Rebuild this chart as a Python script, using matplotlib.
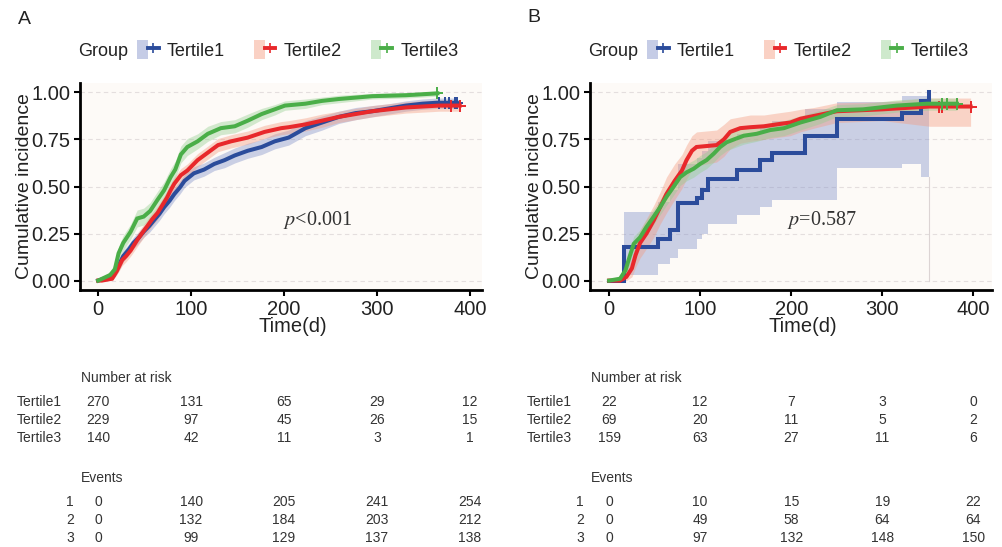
import matplotlib
matplotlib.use("Agg")
import matplotlib.pyplot as plt
import matplotlib.transforms as mtransforms
from matplotlib.lines import Line2D
from matplotlib.patches import Patch
from matplotlib.legend_handler import HandlerTuple
import numpy as np

plt.rcParams['font.family'] = ['Liberation Sans', 'DejaVu Sans']
plt.rcParams['mathtext.fontset'] = 'stix'

groups = ["Tertile1", "Tertile2", "Tertile3"]
line_colors = ["#2B4C9B", "#E8282B", "#4AAE48"]
band_colors = ["#7F8FC8", "#F49A7E", "#93CF8E"]
risk_times = [0, 100, 200, 300, 400]

# ---- Panel A curves (time, estimate, lower CI, upper CI) ----
a1_time = [0, 3, 17, 22, 27, 33, 38, 44, 49, 55, 60, 66, 71, 77, 82, 88, 93, 103, 114, 125,
           136, 147, 161, 176, 190, 205, 223, 241, 259, 277, 295, 313, 331, 349, 364, 386]
a1_est = [0, 0.005, 0.03, 0.08, 0.13, 0.165, 0.20, 0.23, 0.26, 0.29, 0.32, 0.355, 0.39, 0.425, 0.46,
          0.495, 0.53, 0.57, 0.59, 0.62, 0.64, 0.665, 0.69, 0.71, 0.74, 0.76, 0.81, 0.84, 0.87, 0.89,
          0.90, 0.915, 0.93, 0.94, 0.945, 0.945]
a1_lo = [0, 0, 0.01, 0.05, 0.10, 0.135, 0.17, 0.20, 0.23, 0.255, 0.285, 0.32, 0.355, 0.39, 0.425,
         0.46, 0.495, 0.535, 0.555, 0.585, 0.60, 0.625, 0.65, 0.67, 0.70, 0.72, 0.77, 0.80, 0.835, 0.855,
         0.87, 0.885, 0.90, 0.91, 0.915, 0.915]
a1_hi = [0, 0.015, 0.05, 0.11, 0.16, 0.195, 0.23, 0.26, 0.29, 0.325, 0.355, 0.39, 0.425, 0.46, 0.495,
         0.53, 0.565, 0.605, 0.625, 0.655, 0.68, 0.705, 0.73, 0.75, 0.78, 0.80, 0.85, 0.875, 0.9, 0.92,
         0.93, 0.94, 0.955, 0.965, 0.97, 0.97]

a2_time = [0, 4, 15, 20, 26, 30, 35, 42, 47, 53, 58, 64, 69, 74, 78, 82, 89, 96, 107, 118,
           129, 143, 161, 179, 197, 205, 223, 241, 259, 277, 295, 313, 331, 349, 367, 389]
a2_est = [0, 0, 0.01, 0.05, 0.11, 0.13, 0.16, 0.215, 0.25, 0.29, 0.325, 0.36, 0.40, 0.44, 0.48,
          0.515, 0.56, 0.585, 0.64, 0.68, 0.72, 0.74, 0.76, 0.79, 0.81, 0.815, 0.83, 0.85, 0.87, 0.885,
          0.90, 0.91, 0.92, 0.925, 0.93, 0.93]
a2_lo = [0, 0, 0, 0.03, 0.08, 0.10, 0.13, 0.18, 0.215, 0.255, 0.29, 0.325, 0.365, 0.405, 0.445,
         0.48, 0.525, 0.55, 0.605, 0.645, 0.685, 0.705, 0.725, 0.755, 0.775, 0.78, 0.795, 0.815, 0.84, 0.855,
         0.87, 0.88, 0.89, 0.895, 0.90, 0.90]
a2_hi = [0, 0.01, 0.02, 0.07, 0.14, 0.16, 0.19, 0.25, 0.285, 0.325, 0.36, 0.395, 0.435, 0.475, 0.515,
         0.55, 0.595, 0.62, 0.675, 0.715, 0.755, 0.775, 0.795, 0.825, 0.845, 0.85, 0.865, 0.885, 0.9, 0.915,
         0.93, 0.94, 0.95, 0.955, 0.96, 0.96]

a3_time = [0, 13, 18, 22, 27, 31, 35, 42, 49, 56, 64, 71, 78, 83, 89, 96, 107, 118, 132, 147,
           161, 176, 190, 201, 223, 241, 259, 295, 331, 365]
a3_est = [0, 0.03, 0.06, 0.145, 0.2, 0.23, 0.26, 0.33, 0.34, 0.37, 0.43, 0.48, 0.55, 0.59, 0.67,
          0.71, 0.74, 0.78, 0.81, 0.82, 0.85, 0.885, 0.91, 0.93, 0.94, 0.955, 0.965, 0.98, 0.985, 0.995]
a3_lo = [0, 0.01, 0.03, 0.11, 0.16, 0.19, 0.22, 0.285, 0.295, 0.325, 0.385, 0.435, 0.505, 0.545, 0.625,
         0.665, 0.70, 0.74, 0.775, 0.785, 0.815, 0.855, 0.88, 0.905, 0.915, 0.935, 0.945, 0.965, 0.97, 0.98]
a3_hi = [0, 0.05, 0.09, 0.18, 0.24, 0.27, 0.30, 0.375, 0.385, 0.415, 0.475, 0.525, 0.595, 0.635, 0.715,
         0.755, 0.78, 0.82, 0.845, 0.855, 0.885, 0.915, 0.935, 0.955, 0.965, 0.975, 0.985, 0.995, 1.0, 1.0]

a_censor = [[367, 373, 378, 384, 386], [380, 389], [365]]

# ---- Panel B curves ----
b1_time = [0, 16, 54, 67, 76, 96, 102, 109, 140, 166, 179, 215, 250, 322, 343, 351]
b1_est = [0, 0.18, 0.22, 0.27, 0.41, 0.44, 0.48, 0.54, 0.59, 0.64, 0.68, 0.77, 0.86, 0.89, 0.955, 1.0]
b1_lo = [0, 0.03, 0.09, 0.12, 0.17, 0.22, 0.25, 0.30, 0.35, 0.39, 0.43, 0.43, 0.60, 0.62, 0.55, 0.55]
b1_hi = [0, 0.365, 0.42, 0.48, 0.62, 0.65, 0.69, 0.74, 0.78, 0.82, 0.85, 0.91, 0.95, 0.98, 0.98, 1.0]

b2_time = [0, 12, 19, 25, 29, 34, 41, 49, 56, 63, 72, 80, 85, 91, 96, 118, 126, 133, 144, 155,
           170, 184, 199, 210, 225, 250, 300, 352, 397]
b2_est = [0, 0, 0.02, 0.065, 0.135, 0.2, 0.25, 0.32, 0.39, 0.46, 0.53, 0.585, 0.64, 0.69, 0.71,
          0.72, 0.75, 0.79, 0.81, 0.815, 0.82, 0.83, 0.84, 0.86, 0.875, 0.90, 0.91, 0.925, 0.925]
b2_lo = [0, 0, 0, 0.02, 0.07, 0.12, 0.17, 0.23, 0.30, 0.36, 0.43, 0.49, 0.54, 0.59, 0.61,
         0.63, 0.66, 0.70, 0.73, 0.74, 0.75, 0.76, 0.77, 0.79, 0.81, 0.84, 0.85, 0.82, 0.82]
b2_hi = [0, 0.02, 0.06, 0.12, 0.20, 0.27, 0.33, 0.40, 0.47, 0.55, 0.62, 0.67, 0.72, 0.77, 0.79,
         0.80, 0.83, 0.86, 0.87, 0.88, 0.88, 0.89, 0.90, 0.91, 0.92, 0.945, 0.95, 0.97, 0.97]

b3_time = [0, 12, 18, 23, 27, 34, 41, 49, 56, 63, 71, 78, 85, 93, 100, 107, 115, 122, 129, 137,
           148, 162, 177, 192, 210, 232, 250, 279, 316, 349, 382]
b3_est = [0, 0.01, 0.055, 0.135, 0.195, 0.23, 0.285, 0.34, 0.39, 0.445, 0.5, 0.55, 0.575, 0.595, 0.62,
          0.64, 0.675, 0.71, 0.735, 0.75, 0.77, 0.78, 0.80, 0.81, 0.84, 0.87, 0.905, 0.91, 0.93, 0.94, 0.94]
b3_lo = [0, 0, 0.03, 0.10, 0.155, 0.19, 0.245, 0.30, 0.35, 0.40, 0.455, 0.505, 0.53, 0.55, 0.575,
         0.595, 0.63, 0.665, 0.69, 0.705, 0.725, 0.74, 0.76, 0.77, 0.80, 0.835, 0.87, 0.875, 0.895, 0.905, 0.905]
b3_hi = [0, 0.02, 0.08, 0.17, 0.235, 0.27, 0.325, 0.38, 0.43, 0.49, 0.545, 0.595, 0.62, 0.64, 0.665,
         0.685, 0.72, 0.755, 0.78, 0.795, 0.815, 0.82, 0.84, 0.85, 0.875, 0.905, 0.935, 0.94, 0.96, 0.97, 0.97]

b_censor = [[], [362, 366, 397], [366, 371, 382]]

# ---- tables ----
a_risk = [[270, 131, 65, 29, 12], [229, 97, 45, 26, 15], [140, 42, 11, 3, 1]]
a_events = [[0, 140, 205, 241, 254], [0, 132, 184, 203, 212], [0, 99, 129, 137, 138]]
b_risk = [[22, 12, 7, 3, 0], [69, 20, 11, 5, 2], [159, 63, 27, 11, 6]]
b_events = [[0, 10, 15, 19, 22], [0, 49, 58, 64, 64], [0, 97, 132, 148, 150]]

W, H = 1002, 547
fig = plt.figure(figsize=(W / 100, H / 100), dpi=100)
bg = "#FDFAF7"


def curve_value(t, est, x):
    return np.interp(x, t, est)


def draw_panel(ax, curves, stepped, censors, ptext, ppos, xlim):
    ax.set_facecolor(bg)
    for i, (t, est, lo, hi) in enumerate(curves):
        ax.fill_between(t, lo, hi, step='post' if stepped[i] else None,
                        color=band_colors[i], alpha=0.4, lw=0)
    for i, (t, est, lo, hi) in enumerate(curves):
        ax.plot(t, est, drawstyle='steps-post' if stepped[i] else 'default',
                color=line_colors[i], lw=2.9, solid_joinstyle='miter')
        if censors[i]:
            cy = curve_value(t, est, censors[i])
            ax.plot(censors[i], cy, ls='none', marker='+', ms=9, mew=1.4, color=line_colors[i])
    ax.set_xlim(*xlim)
    ax.set_ylim(-0.05, 1.05)
    ax.set_xticks(risk_times)
    ax.set_yticks([0, 0.25, 0.5, 0.75, 1.0])
    ax.set_yticklabels(["0.00", "0.25", "0.50", "0.75", "1.00"])
    ax.yaxis.grid(True, ls=(0, (4, 3)), color="#E4DEDE", lw=0.8)
    ax.set_axisbelow(True)
    for s in ['top', 'right']:
        ax.spines[s].set_visible(False)
    for s in ['left', 'bottom']:
        ax.spines[s].set_linewidth(2)
    ax.tick_params(direction='out', length=4, width=1.5, labelsize=14.5, labelcolor='#222222', pad=3)
    ax.set_ylabel("Cumulative incidence", fontsize=14, color='#222222')
    ax.set_xlabel("Time(d)", fontsize=14.5, color='#222222')
    ax.yaxis.set_label_coords(-0.117, 0.5)
    ax.xaxis.set_label_coords(0.53, -0.13)
    ax.text(ppos[0], ppos[1], ptext, fontsize=14.5, family='Liberation Serif', color='#333333',
            ha='center', va='center')


def draw_table(ax, x0px, risk, events):
    tr = mtransforms.blended_transform_factory(ax.transData, fig.transFigure)
    tc = '#333333'
    fs = 10
    fig.text((x0px + 1) / W, 1 - 378 / H, "Number at risk", fontsize=fs, color=tc, ha='left', va='center')
    for r, yp in enumerate([401.7, 420, 438.3]):
        fig.text((x0px - 18) / W, 1 - yp / H, groups[r], fontsize=fs, color=tc, ha='right', va='center')
        for j, x in enumerate(risk_times):
            ax.text(x, 1 - yp / H, str(risk[r][j]), transform=tr, fontsize=fs, color=tc,
                    ha='center', va='center', clip_on=False)
    fig.text((x0px + 1) / W, 1 - 478.3 / H, "Events", fontsize=fs, color=tc, ha='left', va='center')
    for r, yp in enumerate([501.7, 520, 538.3]):
        fig.text((x0px - 10) / W, 1 - yp / H, str(r + 1), fontsize=fs, color=tc, ha='center', va='center')
        for j, x in enumerate(risk_times):
            ax.text(x, 1 - yp / H, str(events[r][j]), transform=tr, fontsize=fs, color=tc,
                    ha='center', va='center', clip_on=False)


def draw_legend(x0px):
    fig.text(x0px / W, 1 - 51 / H, "Group", fontsize=13, color='#222222', ha='left', va='center')
    handles = []
    for i in range(3):
        handles.append((Patch(facecolor=band_colors[i], alpha=0.45, edgecolor='none'),
                        Line2D([], [], color=line_colors[i], lw=2.8, marker='+', ms=7, mew=1.2)))
    fig.legend(handles, groups, loc='center left', bbox_to_anchor=((x0px + 59) / W, 1 - 50 / H),
               ncol=3, frameon=False, fontsize=13, handlelength=1.2, handleheight=1.2,
               handletextpad=0.45, columnspacing=1.6, borderpad=0, borderaxespad=0,
               handler_map={tuple: HandlerTuple(ndivide=None)}, labelcolor='#222222')


# Panel A
axA = fig.add_axes([80 / W, 1 - 290 / H, 402 / W, 207 / H])
draw_panel(axA,
           [(a1_time, a1_est, a1_lo, a1_hi), (a2_time, a2_est, a2_lo, a2_hi), (a3_time, a3_est, a3_lo, a3_hi)],
           [False, False, False], a_censor, r"$p$<0.001", (236, 0.32), (-19.5, 413))
draw_table(axA, 80, a_risk, a_events)
draw_legend(78)
fig.text(18 / W, 1 - 20 / H, "A", fontsize=14, color='#222222', ha='left', va='center')

# Panel B
axB = fig.add_axes([590 / W, 1 - 290 / H, 402 / W, 207 / H])
draw_panel(axB,
           [(b1_time, b1_est, b1_lo, b1_hi), (b2_time, b2_est, b2_lo, b2_hi), (b3_time, b3_est, b3_lo, b3_hi)],
           [True, False, False], b_censor, r"$p$=0.587", (234, 0.32), (-21, 420.5))
axB.plot([b1_time[-1], b1_time[-1]], [0, b1_lo[-1]], color='#DCD4D4', lw=0.8, zorder=1)
draw_table(axB, 590, b_risk, b_events)
draw_legend(588)
fig.text(527 / W, 1 - 18 / H, "B", fontsize=14, color='#222222', ha='left', va='center')

fig.savefig("out.png", dpi=100, facecolor='white')
